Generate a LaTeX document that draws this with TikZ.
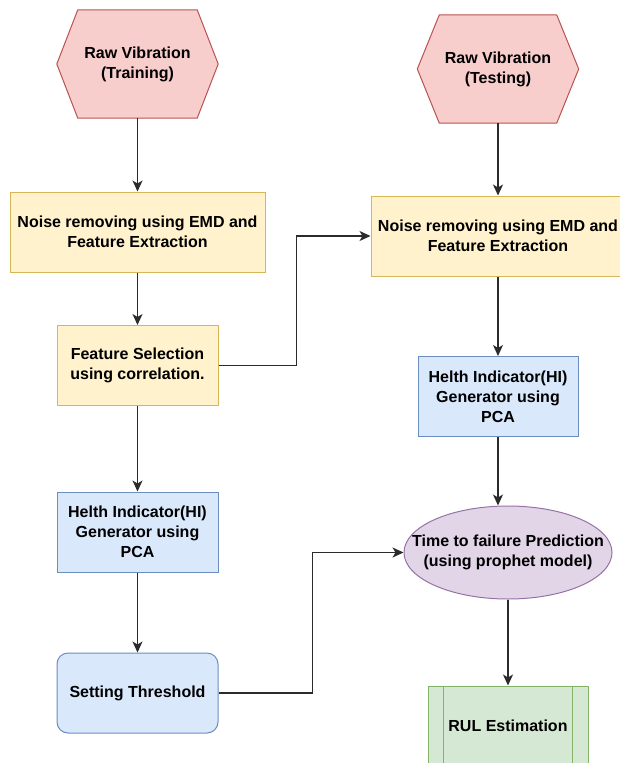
\documentclass[tikz,border=0pt]{standalone}
\usepackage{fontspec}
\setmainfont{Liberation Sans}
\usetikzlibrary{shapes.geometric,arrows.meta,calc}
\definecolor{pinkF}{HTML}{F8CECC}\definecolor{pinkS}{HTML}{B85450}
\definecolor{yelF}{HTML}{FFF2CC}\definecolor{yelS}{HTML}{D6B656}
\definecolor{bluF}{HTML}{DAE8FC}\definecolor{bluS}{HTML}{6C8EBF}
\definecolor{purF}{HTML}{E1D5E7}\definecolor{purS}{HTML}{9673A6}
\definecolor{grnF}{HTML}{D5E8D4}\definecolor{grnS}{HTML}{82B366}
\definecolor{lineC}{HTML}{2B2B2B}
\pgfdeclarelayer{background}
\pgfsetlayers{background,main}
\tikzset{
  lbl/.style={font=\bfseries\fontsize{16}{20}\selectfont, align=center, text=black, inner sep=0pt},
  boxbase/.style={lbl, rectangle, draw, line width=1pt, minimum width=161pt, minimum height=80pt},
  yelbox/.style={boxbase, fill=yelF, draw=yelS},
  blubox/.style={boxbase, fill=bluF, draw=bluS},
  hexnode/.style={lbl, minimum width=161pt, minimum height=108pt},
  hexdraw/.style={fill=pinkF, draw=pinkS, line width=1pt},
  ellnode/.style={ellipse, draw=purS, fill=purF, line width=1pt, inner sep=0pt, minimum width=208pt, minimum height=93pt},
  conn/.style={draw=lineC, line width=1.4pt, -{Stealth[length=11pt,width=10pt,inset=3pt]}},
}
\begin{document}
\begin{tikzpicture}[x=1pt,y=-1pt]
\useasboundingbox (0,0) rectangle (620,763);
\clip (0,0) rectangle (620,763);
% hexagons
\node[hexnode] (h1) at (137.5,64) {Raw Vibration\\(Training)};
\node[hexnode] (h2) at (498,69) {Raw Vibration\\(Testing)};
\begin{pgfonlayer}{background}
\fill[white] (0,0) rectangle (620,763);
\path[hexdraw] (h1.west) -- ($(h1.north west)+(21,0)$) -- ($(h1.north east)+(-21,0)$) -- (h1.east) -- ($(h1.south east)+(-21,0)$) -- ($(h1.south west)+(21,0)$) -- cycle;
\path[hexdraw] (h2.west) -- ($(h2.north west)+(22,0)$) -- ($(h2.north east)+(-22,0)$) -- (h2.east) -- ($(h2.south east)+(-22,0)$) -- ($(h2.south west)+(22,0)$) -- cycle;
\end{pgfonlayer}
% boxes
\node[yelbox, minimum width=255pt] (b1) at (137.5,232) {Noise removing using EMD and\\Feature Extraction};
\node[yelbox] (fs) at (137.5,365.5) {Feature Selection\\using correlation.};
\node[blubox] (hl) at (137.5,532) {Helth Indicator(HI)\\Generator using\\PCA};
\node[blubox, rounded corners=11pt] (th) at (137.5,693) {Setting Threshold};
\node[yelbox, minimum width=254pt] (b2) at (498,236) {Noise removing using EMD and\\Feature Extraction};
\node[blubox, minimum width=160pt] (hr) at (498,396.5) {Helth Indicator(HI)\\Generator using\\PCA};
\node[ellnode] (el) at (508,552.5) {};
\node[lbl] (elt) at (el.center) {Time to failure Prediction\\(using prophet model)};
\node[boxbase, fill=grnF, draw=grnS, minimum width=160pt] (rul) at (508,726) {RUL Estimation};
\draw[grnS, line width=1pt] ($(rul.north west)+(16,0)$) -- ($(rul.south west)+(16,0)$)
  ($(rul.north east)+(-16,0)$) -- ($(rul.south east)+(-16,0)$);
% connectors
\draw[conn] (h1.south) -- (b1.north);
\draw[conn] (b1.south) -- (fs.north);
\draw[conn] (fs.south) -- (hl.north);
\draw[conn] (hl.south) -- (th.north);
\draw[conn] (fs.east) -- ++(78,0) |- (b2.west);
\draw[conn] (h2.south) -- (b2.north);
\draw[conn] (b2.south) -- (hr.north);
\draw[conn] (hr.south) -- (hr.south |- el.north);
\draw[conn] (th.east) -- ++(94,0) |- (el.west);
\draw[conn] (el.south) -- (rul.north);
\end{tikzpicture}
\end{document}
